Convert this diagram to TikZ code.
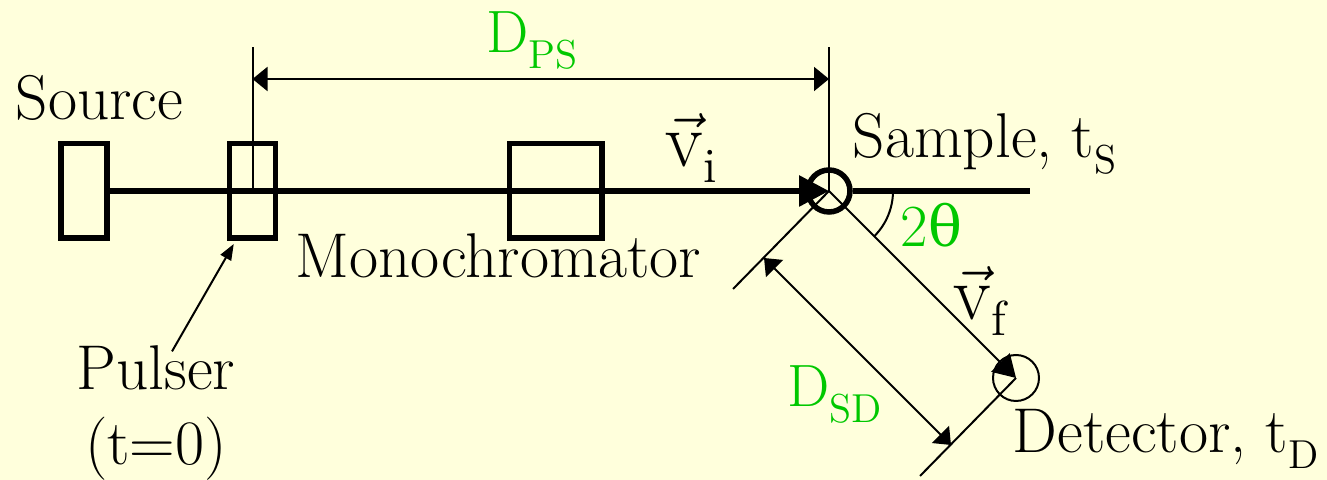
\documentclass[tikz,border=0pt]{standalone}
\usepackage{fontspec}
\newfontfamily\grkfont{DejaVu Serif}
\usetikzlibrary{arrows.meta, calc}
\definecolor{paper}{HTML}{FFFFDC}
\definecolor{dist}{HTML}{00C800}
\newcommand\lowsub[1]{\raisebox{-1.6mm}{\fontsize{11.5}{12}\selectfont #1}}
\newcommand\velo[1]{{\fontsize{22}{22}\selectfont$\vec{\mbox{v}}$}\raisebox{-1.6mm}{\fontsize{14}{14}\selectfont #1}}

\begin{document}
\begin{tikzpicture}[x=0.1mm, y=-0.1mm, font=\fontsize{18}{21}\selectfont,
    box/.style={draw, line width=0.55mm, inner sep=0pt, minimum width=4.6mm, minimum height=9.45mm},
    txt/.style={inner sep=0pt, anchor=base west},
    green lbl/.style={txt, text=dist, font=\fontsize{17}{20}\selectfont},
    beam/.style={line width=0.6mm},
    thinline/.style={line width=0.2mm},
    dimarr/.style={thinline, {Triangle[length=1.5mm,width=2.4mm]}-{Triangle[length=1.5mm,width=2.4mm]}}]

  % paper
  \fill[paper] (0,0) rectangle (1327,480);
  \useasboundingbox (0,0) rectangle (1327,480);

  % beam line parts
  \node[box] (src) at (84,191) {};
  \node[box] (pul) at (252.5,191) {};
  \node[box, minimum width=9.25mm] (mono) at (555.5,191) {};
  \node[draw, circle, line width=0.55mm, minimum size=4.2mm, inner sep=0pt] (smp) at (829,191) {};
  \node[draw, circle, thinline, minimum size=4.6mm, inner sep=0pt] (det) at (1016,378) {};
  \coordinate (beamEnd) at (1030,191);

  % beams
  \draw[beam, -{Triangle[length=3mm,width=3mm]}] (src.east) -- (smp.center);
  \draw[beam] (smp.east) -- (beamEnd);
  \draw[thinline, -{Triangle[length=2.2mm,width=2.6mm]}] (smp.center) -- (det.center);
  \draw[thinline] (smp.center) ++(0:64) arc[start angle=0, end angle=45, radius=64];

  % flight path pulser -> sample
  \draw[thinline] (pul.center) -- (pul.center |- 0,47);
  \draw[thinline] (smp.center) -- (smp.center |- 0,47);
  \draw[dimarr] (pul.center |- 0,79) -- (smp.center |- 0,79);

  % flight path sample -> detector
  \draw[thinline] (smp.center) -- ++(-96,98);
  \draw[thinline] (det.center) -- ++(-96,98);
  \draw[dimarr] ($(smp.center)+(-65,67)$) -- ($(det.center)+(-65,67)$);

  % labels
  \node[txt] (srcLbl) at (15,120) {Source};
  \node[txt] (monoLbl) at (295,278) {Monochromator};
  \node[txt] (smpLbl) at (852,158) {Sample, t\lowsub{S}};
  \node[txt] (detLbl) at (1012,453) {Detector, t\lowsub{D}};
  \node[txt, anchor=base] (pulsLbl) at (156,390) {Pulser};
  \node[txt, anchor=base] (tzero) at (156,465) {(t=0)};
  \node[txt] (vi) at (665,167) {\velo{i}};
  \node[txt] (vf) at (953,320) {\velo{f}};
  \node[green lbl] (dps) at (486,53) {D\lowsub{PS}};
  \node[green lbl] (dsd) at (787,407) {D\lowsub{SD}};
  \node[green lbl] (ang) at (900,247) {2{\grkfont\fontsize{16}{16}\selectfont θ}};

  \draw[thinline, -{Triangle[length=1.6mm,width=1.2mm]}] ($(pulsLbl.north)+(16,6)$) -- ($(pul.south west)+(7,3)$);
\end{tikzpicture}
\end{document}
